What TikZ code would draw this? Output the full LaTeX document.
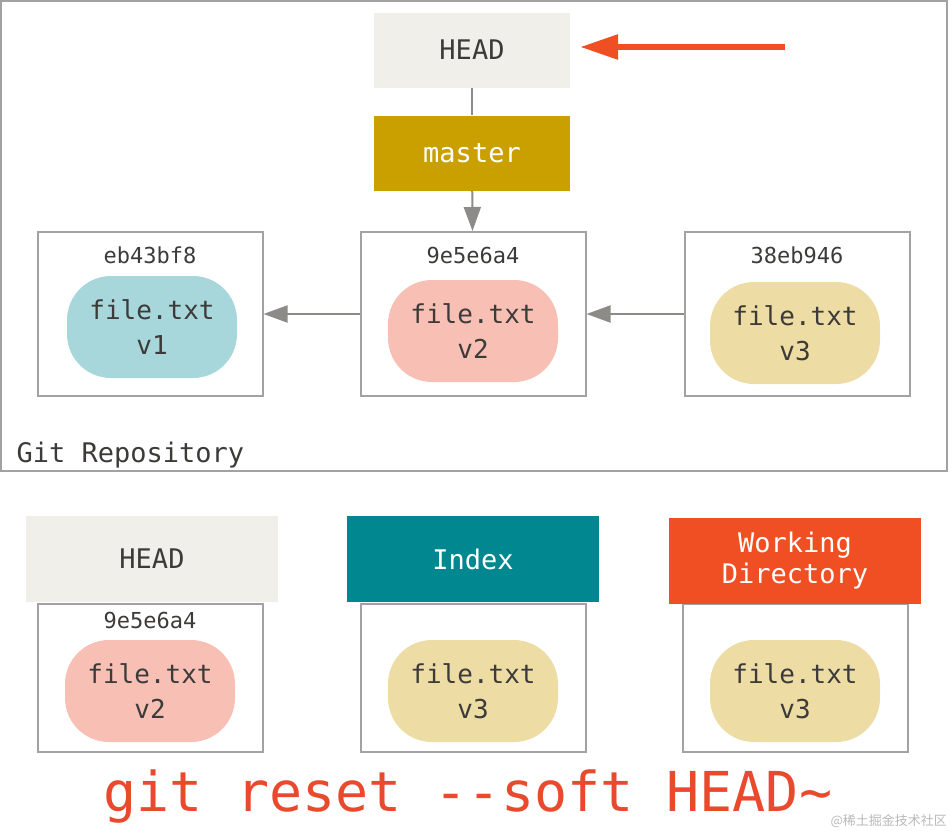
\documentclass[tikz,border=0pt]{standalone}
\usepackage{fontspec}
\setmonofont{DejaVu Sans Mono}
\newfontfamily\cjk{Noto Sans CJK SC}
\usetikzlibrary{arrows.meta,positioning}
\definecolor{framegray}{HTML}{A3A2A0}
\definecolor{linegray}{HTML}{8C8B87}
\definecolor{textgray}{HTML}{3C3B39}
\definecolor{headgray}{HTML}{F0EFEA}
\definecolor{mastergold}{HTML}{C9A000}
\definecolor{indexteal}{HTML}{00878F}
\definecolor{workred}{HTML}{F04E23}
\definecolor{cmdred}{HTML}{E94A2E}
\definecolor{blobblue}{HTML}{A7D7DB}
\definecolor{blobpink}{HTML}{F8C0B5}
\definecolor{blobyellow}{HTML}{EDDCA4}
\begin{document}
\begin{tikzpicture}[x=1pt, y=-1pt,
		commit/.style={draw=framegray, line width=2pt, minimum width=225pt, minimum height=164pt, inner sep=0pt},
		tree/.style={draw=framegray, line width=2pt, minimum width=225pt, minimum height=148pt, inner sep=0pt},
		blob/.style={rounded corners=44pt, minimum width=170pt, minimum height=102pt, inner sep=0pt, align=center, text=textgray, font=\ttfamily\fontsize{26}{33}\selectfont},
		hash/.style={text=textgray, font=\ttfamily\fontsize{22}{26}\selectfont},
		ref/.style={minimum width=196pt, minimum height=75pt, inner sep=0pt, font=\ttfamily\fontsize{27}{30}\selectfont},
		area/.style={minimum width=252pt, minimum height=86pt, inner sep=0pt, align=center, font=\ttfamily\fontsize{27}{31}\selectfont},
		link/.style={draw=linegray, line width=2pt, -{Triangle[length=24pt, width=17pt]}}]
	\useasboundingbox (0,0) rectangle (950,830);
	% repository
	\draw[draw=framegray, line width=1.5pt] (1,1) rectangle (947,471);
	\node[anchor=base west, text=textgray, font=\ttfamily\fontsize{27}{30}\selectfont] (repo) at (13,462) {Git Repository};
	\node[ref, fill=headgray, text=textgray] (head) at (472,50) {HEAD};
	\node[ref, fill=mastergold, text=white] (master) at (472,153) {master};
	\node[commit] (c1) at (150,314) {};
	\node[commit] (c2) at (473,314) {};
	\node[commit] (c3) at (797,314) {};
	\node[hash] (h1) at (150,255) {eb43bf8};
	\node[hash] (h2) at (473,255) {9e5e6a4};
	\node[hash] (h3) at (797,255) {38eb946};
	\node[blob, fill=blobblue] (b1) at (152,327) {file.txt\\[2pt]v1};
	\node[blob, fill=blobpink] (b2) at (473,331) {file.txt\\[2pt]v2};
	\node[blob, fill=blobyellow] (b3) at (795,333) {file.txt\\[2pt]v3};
	\draw[draw=linegray, line width=2pt] (head) -- (master);
	\draw[link] (master) -- (c2);
	\draw[link] (c2) -- (c1);
	\draw[link] (c3) -- (c2);
	\coordinate (pointer) at (785,47);
	\draw[draw=workred, line width=6pt, shorten >=10pt, -{Triangle[length=38pt, width=24pt]}] (pointer) -- (head.east |- pointer);
	% the three trees
	\foreach \x/\name/\col/\ver in {150/t1/blobpink/2, 473/t2/blobyellow/3, 795/t3/blobyellow/3}{
	  \node[tree] (\name) at (\x,678) {};
	  \node[blob, fill=\col] (\name b) at (\x,691) {file.txt\\[2pt]v\ver};
	}
	\node[hash] (h4) at (150,620) {9e5e6a4};
	\node[area, fill=headgray, text=textgray] (headarea) at (152,559) {HEAD};
	\node[area, fill=indexteal, text=white] (indexarea) at (473,559) {Index};
	\node[area, fill=workred, text=white] (workarea) at (795,561) {Working\\Directory};
	\node[inner sep=0pt, text=cmdred, font=\ttfamily\fontsize{55}{60}\selectfont] (cmd) at (468,797) {git reset -{}-soft HEAD\textasciitilde};
	\node[anchor=south east, inner sep=1pt, text=gray!55, font=\cjk\fontsize{13}{15}\selectfont] (mark) at (948,829) {@稀土掘金技术社区};
\end{tikzpicture}
\end{document}
